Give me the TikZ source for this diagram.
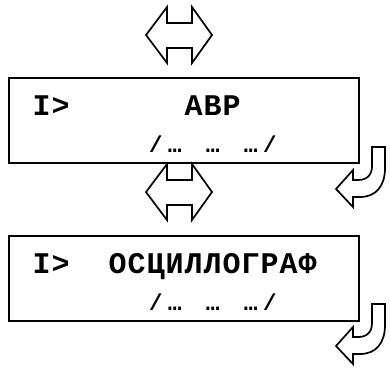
\documentclass[tikz,border=0pt]{standalone}
\usepackage{fontspec}
\newfontfamily\cour{Liberation Mono}
\newcommand\spc[1]{\ifx#1\relax\else\makebox[19pt][c]{#1}\expandafter\spc\fi}
\tikzset{
  frame/.style={draw=black, line width=2.2pt, fill=white},
  arr/.style={draw=black, line width=1.7pt, fill=white, line join=miter},
  big/.style={inner sep=0pt, anchor=base west, font=\cour\bfseries\fontsize{30}{32}\selectfont},
  small/.style={inner sep=0pt, anchor=base west, font=\cour\bfseries\fontsize{23}{25}\selectfont},
}
\begin{document}
\begin{tikzpicture}[x=1pt,y=-1pt]
\useasboundingbox (0,0) rectangle (390,367);
% boxes
\draw[frame] (9,78) rectangle (359,163);
\draw[frame] (9,236) rectangle (359,321);
% texts box 1
\node[big] (t1a) at (32,115) {\spc I>\relax};
\node[big] (t1b) at (184,115) {\spc АВР\relax};
\begin{scope}
\clip (9,78) rectangle (359,151.5);
\node[small] (t1c) at (146,152.5) {\spc /…~…~…/\relax};
\end{scope}
% texts box 2
\node[big] (t2a) at (32,273) {\spc I>\relax};
\node[big] (t2b) at (108,273) {\spc ОСЦИЛЛОГРАФ\relax};
\begin{scope}
\clip (9,236) rectangle (359,309.5);
\node[small] (t2c) at (146,310.5) {\spc /…~…~…/\relax};
\end{scope}
% double arrows
\foreach \dy in {0,157}{
\draw[arr] (167,7+\dy) -- (167,23+\dy) -- (192,23+\dy) -- (192,7+\dy) -- (212,35+\dy)
  -- (192,63+\dy) -- (192,48+\dy) -- (167,48+\dy) -- (167,63+\dy) -- (146,35+\dy) -- cycle;
}
% curved arrows
\foreach \dy in {0,157}{
\draw[arr] (372,147+\dy) -- (385,147+\dy) -- (385,168+\dy)
  .. controls (385,186+\dy) and (376,197+\dy) .. (360,197+\dy)
  -- (353,197+\dy) -- (353,207+\dy) -- (336,189+\dy) -- (353,170+\dy) -- (353,180+\dy)
  -- (358,180+\dy) .. controls (367,180+\dy) and (372,175+\dy) .. (372,166+\dy) -- cycle;
}
\end{tikzpicture}
\end{document}
